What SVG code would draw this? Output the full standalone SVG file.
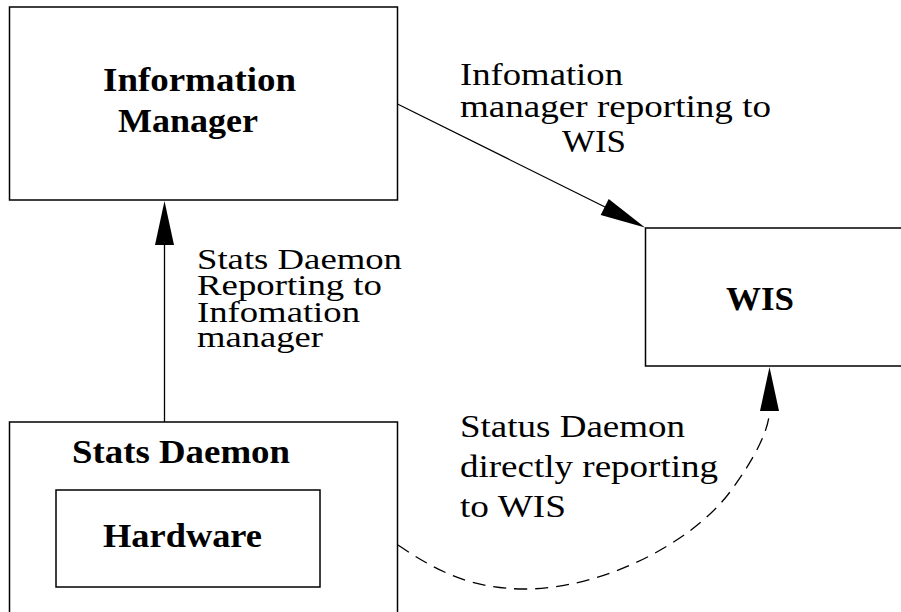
<svg xmlns="http://www.w3.org/2000/svg" width="901" height="612" viewBox="0 0 901 612">
  <style>
    .box { fill: none; stroke: #000; stroke-width: 1.5; }
    .title { font-family: "Liberation Serif", "Times New Roman", serif; font-weight: bold; font-size: 34px; fill: #000; }
    .label { font-family: "Liberation Serif", "Times New Roman", serif; font-size: 31px; fill: #000; }
    .tight { font-size: 29px; }
    .edge { fill: none; stroke: #000; stroke-width: 1.3; }
    .dashed { stroke-dasharray: 13 8; }
    .head { fill: #000; stroke: none; }
  </style>
  <rect width="901" height="612" fill="#fff"/>

  <g id="information-manager">
    <rect class="box" x="9.5" y="7" width="388" height="193"/>
    <text class="title" x="103" y="91" textLength="193" lengthAdjust="spacingAndGlyphs">Information</text>
    <text class="title" x="118" y="132" textLength="140" lengthAdjust="spacingAndGlyphs">Manager</text>
  </g>

  <g id="wis">
    <rect class="box" x="645.5" y="228" width="270" height="138"/>
    <text class="title" x="726" y="310" textLength="68" lengthAdjust="spacingAndGlyphs">WIS</text>
  </g>

  <g id="stats-daemon">
    <rect class="box" x="9.5" y="422" width="388" height="200"/>
    <text class="title" x="72" y="463" textLength="218" lengthAdjust="spacingAndGlyphs">Stats Daemon</text>
  </g>

  <g id="hardware">
    <rect class="box" x="56" y="490" width="264" height="97"/>
    <text class="title" x="103" y="547" textLength="159" lengthAdjust="spacingAndGlyphs">Hardware</text>
  </g>

  <g id="connectors">
    <!-- Information Manager to WIS -->
    <line class="edge" x1="397.5" y1="104" x2="606" y2="207.5"/>
    <polygon class="head" points="645,227.5 600.7,215 608.7,198.9"/>
    <!-- Stats Daemon to Information Manager -->
    <line class="edge" x1="164.5" y1="422" x2="164.5" y2="244"/>
    <polygon class="head" points="164.5,201 155,245 174,245"/>
    <!-- Stats Daemon directly to WIS -->
    <path class="edge dashed" d="M398,545 C435,570 470,589 525,589 C600,589 690,545 730,492 C755,458 769,430 769.5,411"/>
    <polygon class="head" points="769.5,367 760,411 779,411"/>
  </g>

  <g id="edge-labels">
    <text class="label" x="460" y="85" textLength="163" lengthAdjust="spacingAndGlyphs">Infomation</text>
    <text class="label" x="460" y="117" textLength="311" lengthAdjust="spacingAndGlyphs">manager reporting to</text>
    <text class="label" x="562" y="152" textLength="64" lengthAdjust="spacingAndGlyphs">WIS</text>

    <text class="label tight" x="197" y="269" textLength="205" lengthAdjust="spacingAndGlyphs">Stats Daemon</text>
    <text class="label tight" x="197" y="295" textLength="185" lengthAdjust="spacingAndGlyphs">Reporting to</text>
    <text class="label tight" x="197" y="322" textLength="163" lengthAdjust="spacingAndGlyphs">Infomation</text>
    <text class="label tight" x="197" y="347" textLength="126" lengthAdjust="spacingAndGlyphs">manager</text>

    <text class="label" x="460" y="437" textLength="225" lengthAdjust="spacingAndGlyphs">Status Daemon</text>
    <text class="label" x="460" y="477" textLength="258" lengthAdjust="spacingAndGlyphs">directly reporting</text>
    <text class="label" x="460" y="517" textLength="106" lengthAdjust="spacingAndGlyphs">to WIS</text>
  </g>
</svg>
